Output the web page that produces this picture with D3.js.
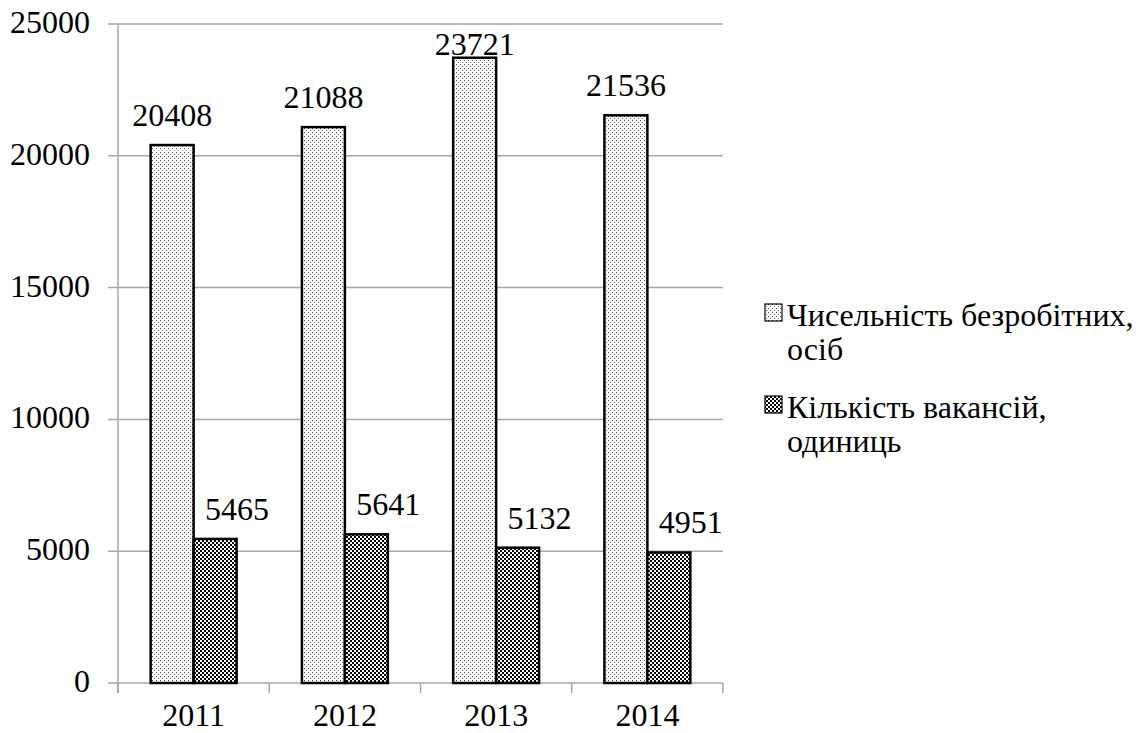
<!DOCTYPE html>
<html><head><meta charset="utf-8">
<script src="https://cdn.jsdelivr.net/npm/d3@7"></script>
<style>body{margin:0;background:#fff}svg{display:block}</style>
</head><body><svg id="c" width="1147" height="733" font-family="Liberation Serif"></svg>
<script>
const years = ["2011","2012","2013","2014"];
const unemployed = [20408, 21088, 23721, 21536];
const vacancies = [5465, 5641, 5132, 4951];
const seriesNames = [["Чисельність безробітних,","осіб"],["Кількість вакансій,","одиниць"]];
const yTicks = [0,5000,10000,15000,20000,25000];

(function(){
const FS = 32;
const svg = d3.select("#c");
const defs = svg.append("defs");
const p1 = defs.append("pattern").attr("id","dots").attr("patternUnits","userSpaceOnUse").attr("width",4).attr("height",4);
p1.append("rect").attr("width",4).attr("height",4).attr("fill","#fff");
p1.append("rect").attr("x",0).attr("y",0).attr("width",1).attr("height",1).attr("fill","#444");
p1.append("rect").attr("x",2).attr("y",2).attr("width",1).attr("height",1).attr("fill","#777");
const p2 = defs.append("pattern").attr("id","check").attr("patternUnits","userSpaceOnUse").attr("width",4).attr("height",4);
p2.append("rect").attr("width",4).attr("height",4).attr("fill","#000");
p2.append("rect").attr("x",0).attr("y",0).attr("width",2).attr("height",2).attr("fill","#fff");
p2.append("rect").attr("x",2).attr("y",2).attr("width",2).attr("height",2).attr("fill","#fff");

const pl=118, pr=723, pt=24, pb=683;
const x = d3.scaleBand().domain(years).range([pl,pr]).paddingInner(0).paddingOuter(0);
const y = d3.scaleLinear().domain([0,25000]).range([pb,pt]);
const sub = d3.scaleBand().domain([0,1]).range([0,x.bandwidth()]).paddingInner(0).paddingOuter(0.76);

function txt(sel){ sel.attr("font-family","Liberation Serif").attr("font-size",FS).attr("fill","#000"); }

svg.append("g").selectAll("line").data(yTicks).join("line")
  .attr("x1",pl-10).attr("x2",pr).attr("y1",d=>y(d)).attr("y2",d=>y(d))
  .attr("stroke","#a6a6a6").attr("stroke-width",1.5);
svg.append("line").attr("x1",pl).attr("x2",pl).attr("y1",pt).attr("y2",pb+10).attr("stroke","#a6a6a6").attr("stroke-width",1.5);
const bounds = years.map(d=>x(d)).concat([pr]);
svg.append("g").selectAll("line").data(bounds).join("line")
  .attr("x1",d=>d).attr("x2",d=>d).attr("y1",pb).attr("y2",pb+10)
  .attr("stroke","#a6a6a6").attr("stroke-width",1.5);
svg.append("g").selectAll("text").data(yTicks).join("text")
  .attr("x",pl-28).attr("y",d=>y(d)+9).attr("text-anchor","end")
  .call(txt).text(d=>d);
svg.append("g").selectAll("text").data(years).join("text")
  .attr("x",d=>x(d)+x.bandwidth()/2).attr("y",726).attr("text-anchor","middle")
  .call(txt).text(d=>d);

const series = [unemployed, vacancies];
const fills = ["url(#dots)","url(#check)"];
series.forEach((vals,si)=>{
  const g = svg.append("g");
  g.selectAll("rect").data(vals).join("rect")
    .attr("x",(d,i)=>x(years[i])+sub(si)).attr("width",sub.bandwidth())
    .attr("y",d=>y(d)).attr("height",d=>pb-y(d))
    .attr("fill",fills[si]).attr("stroke","#000").attr("stroke-width",2.5);
  g.selectAll("text").data(vals).join("text")
    .attr("x",(d,i)=>x(years[i])+sub(si)+sub.bandwidth()/2+(si===1?22:0))
    .attr("y",d=>Math.max(y(d)-19, pt+31)).attr("text-anchor","middle").call(txt).text(d=>d);
});

const leg = svg.append("g");
const ly = [326, 418];
seriesNames.forEach((nm,i)=>{
  leg.append("rect").attr("x",765).attr("y",ly[i]-22).attr("width",17).attr("height",17)
    .attr("fill",fills[i]).attr("stroke","#000").attr("stroke-width",1.2);
  nm.forEach((t,j)=>{
    leg.append("text").attr("x",787).attr("y",ly[i]+j*34)
      .call(txt).text(t);
  });
});
})();
</script></body></html>
